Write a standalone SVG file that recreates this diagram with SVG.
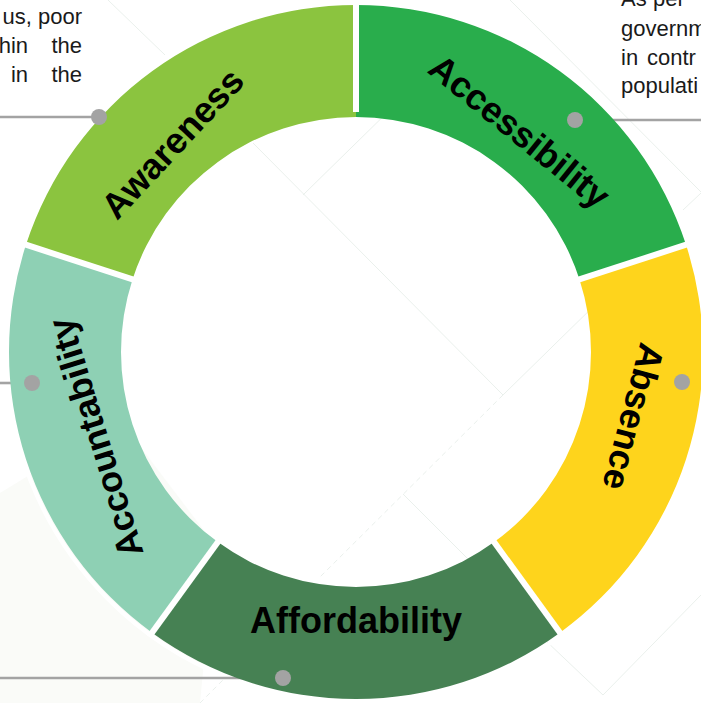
<svg xmlns="http://www.w3.org/2000/svg" width="701" height="703" viewBox="0 0 701 703">
<style>
.bg{fill:none;stroke:#EAF0EC;stroke-width:1}
.dash{stroke-dasharray:5 4}
.seg-label{font-family:"Liberation Sans",Arial,Helvetica,sans-serif;font-weight:bold;font-size:36px;fill:#000;text-anchor:middle}
.para{font-family:"Liberation Sans",Arial,Helvetica,sans-serif;font-size:22px;fill:#1a1a1a}
.conn{stroke:#A3A3A3;stroke-width:2.6;fill:none}
.dot{fill:#A3A3A3}
.gap{stroke:#fff;stroke-width:6}
</style>
<rect width="701" height="703" fill="#fff"/>
<g id="background">
<polygon points="0,493 120,420 215,545 200,703 0,703" fill="#FAFBF8"/>
<line class="bg" x1="108" y1="0" x2="165" y2="55"/>
<line class="bg" x1="253" y1="143" x2="503" y2="395"/>
<line class="bg" x1="303" y1="195" x2="400" y2="100"/>
<line class="bg" x1="503" y1="395" x2="600" y2="300"/>
<line class="bg dash" x1="503" y1="395" x2="320" y2="577"/>
<line class="bg" x1="403" y1="494" x2="470" y2="561"/>
<line class="bg" x1="545" y1="640" x2="603" y2="695"/>
<line class="bg" x1="603" y1="695" x2="701" y2="595"/>
<line class="bg" x1="510" y1="0" x2="701" y2="192"/>
<line class="bg" x1="683" y1="210" x2="701" y2="193"/>
<line class="bg dash" x1="200" y1="703" x2="225" y2="678"/>
</g>
<circle cx="356" cy="352" r="350" fill="none" stroke="#fff" stroke-width="4"/>
<g id="connectors">
<line class="conn" x1="0" y1="117" x2="99" y2="117"/>
<line class="conn" x1="575" y1="120" x2="701" y2="120"/>
<line class="conn" x1="682" y1="382" x2="701" y2="382"/>
<line class="conn" x1="0" y1="383" x2="32" y2="383"/>
<line class="conn" x1="0" y1="678" x2="283" y2="678"/>
</g>
<g id="awareness">
<path d="M25.98,244.77 A347,347 0 0 1 356,5 L356,117 A235,235 0 0 0 132.5,279.38 Z" fill="#8BC43F"/>
<text class="seg-label" transform="translate(172,143) rotate(-47)" y="13">Awareness</text>
</g>
<g id="accessibility">
<path d="M356,5 A347,347 0 0 1 686.02,244.77 L579.5,279.38 A235,235 0 0 0 356,117 Z" fill="#29AD4C"/>
<text class="seg-label" transform="translate(520,131) rotate(39)" y="13">Accessibility</text>
</g>
<g id="absence">
<path d="M686.02,244.77 A347,347 0 0 1 559.96,632.73 L494.13,542.12 A235,235 0 0 0 579.5,279.38 Z" fill="#FED41C"/>
<text class="seg-label" transform="translate(634,417) rotate(105)" y="13">Absence</text>
</g>
<g id="affordability">
<path d="M559.96,632.73 A347,347 0 0 1 152.04,632.73 L217.87,542.12 A235,235 0 0 0 494.13,542.12 Z" fill="#468153"/>
<text class="seg-label" x="356" y="633">Affordability</text>
</g>
<g id="accountability">
<path d="M152.04,632.73 A347,347 0 0 1 25.98,244.77 L132.5,279.38 A235,235 0 0 0 217.87,542.12 Z" fill="#8ED0B4"/>
<text class="seg-label" transform="translate(95,438) rotate(-107)" y="13">Accountability</text>
</g>
<g id="dividers">
<line class="gap" x1="356" y1="112" x2="356" y2="0"/>
<line class="gap" x1="574.7" y1="280.9" x2="690.8" y2="243.2"/>
<line class="gap" x1="491.2" y1="538.1" x2="562.9" y2="636.8"/>
<line class="gap" x1="220.8" y1="538.1" x2="149.1" y2="636.8"/>
<line class="gap" x1="137.3" y1="280.9" x2="21.2" y2="243.2"/>
</g>
<g id="dots">
<circle class="dot" cx="99" cy="117" r="8"/>
<circle class="dot" cx="575" cy="120" r="8"/>
<circle class="dot" cx="682" cy="382" r="8"/>
<circle class="dot" cx="32" cy="383" r="8"/>
<circle class="dot" cx="283" cy="678" r="8"/>
</g>
<g id="text-left">
<text class="para" x="82" y="24" text-anchor="end">us, poor</text>
<text class="para" x="28" y="53" text-anchor="end">hin</text>
<text class="para" x="82" y="53" text-anchor="end">the</text>
<text class="para" x="28" y="82" text-anchor="end">in</text>
<text class="para" x="82" y="82" text-anchor="end">the</text>
</g>
<g id="text-right">
<text class="para" x="621" y="6">As</text>
<text class="para" x="653" y="6">per</text>
<text class="para" x="621" y="36">governm</text>
<text class="para" x="621" y="65">in</text>
<text class="para" x="647" y="65">contr</text>
<text class="para" x="621" y="93">populati</text>
</g>
</svg>
